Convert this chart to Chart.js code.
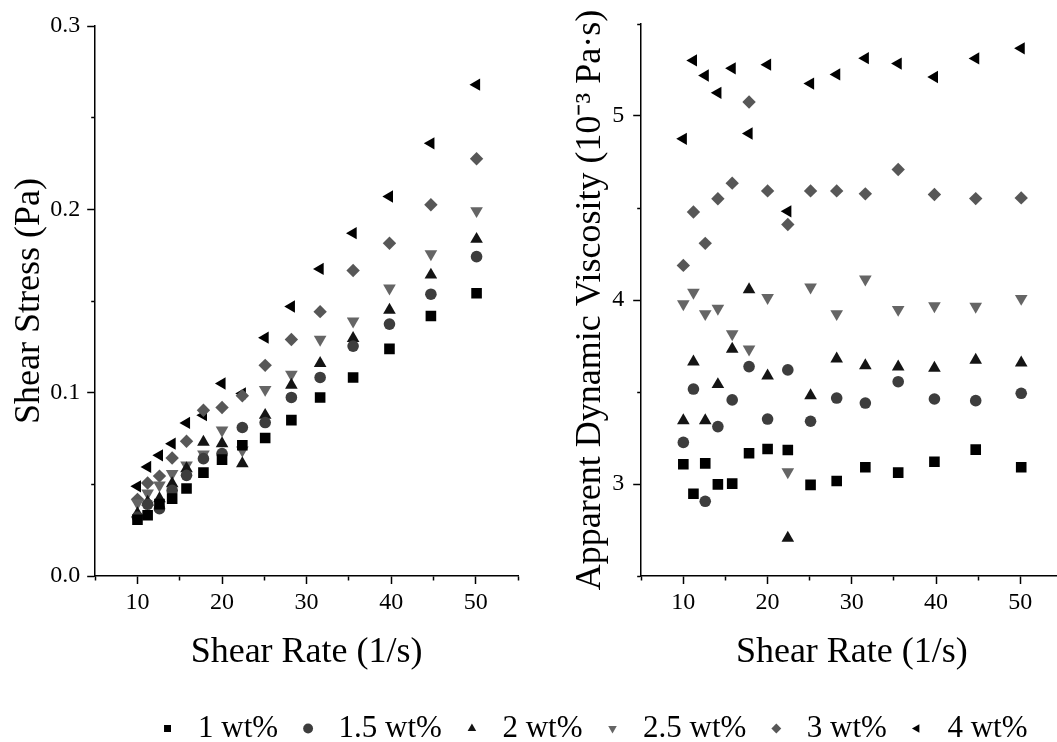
<!DOCTYPE html>
<html>
<head>
<meta charset="utf-8">
<script src="https://cdn.jsdelivr.net/npm/chart.js@4/dist/chart.umd.min.js"></script>
<style>
  html, body { margin: 0; padding: 0; background: #fff; }
  body { width: 1057px; height: 742px; overflow: hidden; position: relative; }
  canvas { position: absolute; }
  #left { left: 0; top: 0; }
  #right { left: 530px; top: 0; }
  #legend { left: 0; top: 698px; }
</style>
</head>
<body>
<canvas id="left" width="530" height="680"></canvas>
<canvas id="right" width="540" height="680"></canvas>
<canvas id="legend" width="1180" height="140"></canvas>
<script>
// shear rate (1/s)
const rates = [10, 11.2, 12.6, 14.1, 15.8, 17.8, 20, 22.4, 25.1, 28.2, 31.6, 35.5, 39.8, 44.7, 50.1];
const seriesNames = ["1 wt%", "1.5 wt%", "2 wt%", "2.5 wt%", "3 wt%", "4 wt%"];

// shear stress (Pa)
const stress1 = [0.0307, 0.0331, 0.0392, 0.0422, 0.0477, 0.0564, 0.0635, 0.0713, 0.0753, 0.085, 0.0974, 0.1083, 0.1239, 0.1418, 0.1542];
const stress15 = [0.0321, 0.0391, 0.0367, 0.0467, 0.0549, 0.064, 0.0668, 0.081, 0.0837, 0.0974, 0.1083, 0.1254, 0.1374, 0.1537, 0.1742];
const stress2 = [0.034, 0.0403, 0.0422, 0.0504, 0.0586, 0.0731, 0.0722, 0.0613, 0.0877, 0.1041, 0.116, 0.1296, 0.1451, 0.1642, 0.1837];
const stress25 = [0.0397, 0.0452, 0.0495, 0.0558, 0.0604, 0.0664, 0.0795, 0.0686, 0.1017, 0.11, 0.129, 0.139, 0.157, 0.1757, 0.1992];
const stress3 = [0.0418, 0.0507, 0.0545, 0.0644, 0.0735, 0.0904, 0.0919, 0.0983, 0.1149, 0.129, 0.1442, 0.1666, 0.1815, 0.2025, 0.2276];
const stress4 = [0.0489, 0.0595, 0.0658, 0.0722, 0.0835, 0.0877, 0.105, 0.0996, 0.13, 0.147, 0.1675, 0.187, 0.207, 0.236, 0.268];

// apparent dynamic viscosity (10^-3 Pa.s)
const visc1 = [3.107, 2.947, 3.112, 2.998, 3.002, 3.167, 3.19, 3.185, 2.995, 3.016, 3.091, 3.062, 3.121, 3.187, 3.091];
const visc15 = [3.226, 3.516, 2.906, 3.312, 3.457, 3.638, 3.353, 3.62, 3.341, 3.467, 3.44, 3.556, 3.462, 3.453, 3.493];
const visc2 = [3.345, 3.664, 3.345, 3.541, 3.733, 4.057, 3.588, 2.706, 3.481, 3.68, 3.644, 3.637, 3.63, 3.673, 3.659];
const visc25 = [3.979, 4.041, 3.925, 3.954, 3.816, 3.733, 4.013, 3.066, 4.07, 3.925, 4.113, 3.948, 3.968, 3.965, 4.008];
const visc3 = [4.188, 4.478, 4.308, 4.55, 4.635, 5.076, 4.593, 4.41, 4.593, 4.593, 4.577, 4.709, 4.573, 4.551, 4.555];
const visc4 = [4.876, 5.302, 5.22, 5.126, 5.259, 4.905, 5.279, 4.482, 5.176, 5.226, 5.314, 5.285, 5.212, 5.313, 5.368];

const markers = [
  { style: "rect", rotation: 0, radius: 7.5, color: "#000000" },
  { style: "circle", rotation: 0, radius: 5.8, color: "#3d3d3d" },
  { style: "triangle", rotation: 0, radius: 7.3, color: "#141414" },
  { style: "triangle", rotation: 180, radius: 7.3, color: "#656565" },
  { style: "rectRot", rotation: 0, radius: 6.7, color: "#575757" },
  { style: "triangle", rotation: -90, radius: 7.1, color: "#000000" },
];

Chart.defaults.font.family = "'Liberation Serif', 'Times New Roman', serif";
Chart.defaults.color = "#000";

function makeSets(series) {
  return series.map((vals, i) => ({
    label: seriesNames[i],
    data: vals ? rates.map((x, j) => ({ x: x, y: vals[j] })) : [],
    showLine: false,
    pointStyle: markers[i].style,
    pointRotation: markers[i].rotation,
    pointRadius: markers[i].radius,
    pointHoverRadius: markers[i].radius,
    pointBackgroundColor: markers[i].color,
    pointBorderColor: markers[i].color,
    pointBorderWidth: 0,
    backgroundColor: markers[i].color,
    borderColor: markers[i].color,
    borderWidth: 0,
  }));
}

function gridOpts(isMinor, leftSide) {
  return {
    drawOnChartArea: false,
    drawTicks: true,
    tickLength: 8,
    tickColor: "#000",
    tickWidth: 1.5,
    tickBorderDash: (ctx) => (ctx.tick && isMinor(ctx.tick.value) ? [4, 20] : []),
    tickBorderDashOffset: (ctx) => (leftSide && ctx.tick && isMinor(ctx.tick.value) ? 20 : 0),
  };
}

function xScale() {
  const minor = (v) => Math.round(v) % 10 !== 0;
  return {
    type: "linear",
    min: 5,
    max: 55,
    ticks: {
      stepSize: 5,
      padding: 4,
      autoSkip: false,
      maxRotation: 0,
      font: { size: 24 },
      callback: (v) => (minor(v) ? "" : String(Math.round(v))),
    },
    grid: gridOpts(minor, false),
    border: { display: true, color: "#000", width: 1.5 },
    title: { display: true, text: "Shear Rate (1/s)", font: { size: 36 }, padding: { top: 10, bottom: 0 } },
  };
}

function baseOptions(yScale, pad) {
  return {
    responsive: false,
    animation: false,
    events: [],
    layout: { padding: pad },
    plugins: { legend: { display: false }, tooltip: { enabled: false } },
    scales: { x: xScale(), y: yScale },
  };
}

// Shear stress vs shear rate
const stressMinor = (v) => Math.round(v * 100) % 10 !== 0;
new Chart(document.getElementById("left"), {
  type: "scatter",
  data: { datasets: makeSets([stress1, stress15, stress2, stress25, stress3, stress4]) },
  options: baseOptions(
    {
      type: "linear",
      min: 0,
      max: 0.3,
      ticks: {
        stepSize: 0.05,
        padding: 7,
        autoSkip: false,
        font: { size: 24 },
        callback: (v) => (stressMinor(v) ? "" : v.toFixed(1)),
      },
      grid: gridOpts(stressMinor, true),
      border: { display: true, color: "#000", width: 1.5 },
      title: { display: true, text: "Shear Stress (Pa)", font: { size: 36 }, padding: { top: 0, bottom: -8 } },
    },
    { left: 8, right: 12, top: 26, bottom: 6 }
  ),
});

// Viscosity vs shear rate
const viscMinor = (v) => Math.abs(v - Math.round(v)) > 1e-6;
new Chart(document.getElementById("right"), {
  type: "scatter",
  data: { datasets: makeSets([visc1, visc15, visc2, visc25, visc3, visc4]) },
  options: baseOptions(
    {
      type: "linear",
      min: 2.5,
      max: 5.5,
      ticks: {
        stepSize: 0.5,
        padding: 9,
        autoSkip: false,
        font: { size: 24 },
        callback: (v) => (viscMinor(v) ? "" : String(Math.round(v))),
      },
      grid: gridOpts(viscMinor, true),
      border: { display: true, color: "#000", width: 1.5 },
      title: { display: true, text: "Apparent Dynamic Viscosity (10\u207B\u00B3 Pa\u00B7s)", font: { size: 36 }, padding: { top: 0, bottom: -9 } },
    },
    { left: 39, right: 7, top: 24, bottom: 6 }
  ),
});

// Shared legend
new Chart(document.getElementById("legend"), {
  type: "scatter",
  data: { datasets: makeSets([null, null, null, null, null, null]) },
  options: {
    responsive: false,
    animation: false,
    events: [],
    layout: { padding: 0 },
    scales: { x: { display: false }, y: { display: false } },
    plugins: {
      tooltip: { enabled: false },
      legend: {
        display: true,
        position: "top",
        labels: {
          usePointStyle: true,
          boxWidth: 30,
          boxHeight: 7,
          padding: 15,
          font: { size: 31 },
          color: "#000",
        },
      },
    },
  },
});
</script>
</body>
</html>
